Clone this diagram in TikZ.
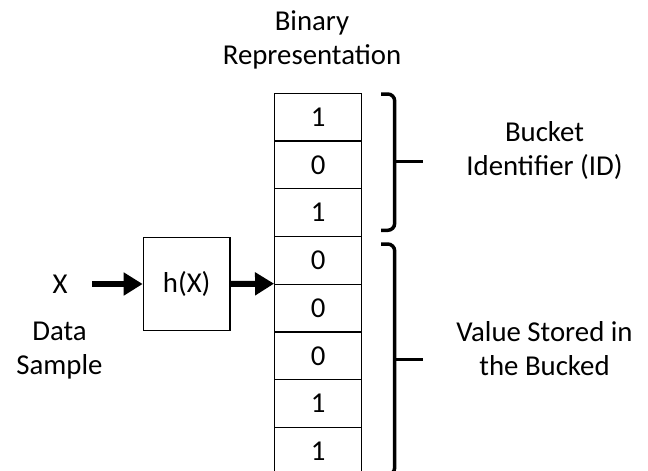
\documentclass[tikz,border=0pt]{standalone}
\usepackage{fontspec}
\setmainfont{Carlito}
\usetikzlibrary{arrows.meta}
\tikzset{
  lbl/.style={font=\fontsize{28.8}{33.6}\selectfont, align=center, inner sep=0pt, anchor=base},
  bitcell/.style={draw, line width=1.3pt, minimum width=87pt, minimum height=47.75pt,
    inner sep=0pt, font=\fontsize{28.8}{33.6}\selectfont},
  hashbox/.style={draw, line width=1.3pt, minimum width=86.7pt, minimum height=93.4pt,
    inner sep=0pt, font=\fontsize{28.8}{33.6}\selectfont},
  bigarrow/.style={line width=6pt, -{Triangle[length=19pt,width=22pt]}},
  bracket/.style={line width=3.5pt, rounded corners=7pt, line cap=butt}
}
\begin{document}
\begin{tikzpicture}[x=1pt,y=-1pt]
\useasboundingbox (0,0) rectangle (648,471);

% column of bits (digits sit slightly below the cell centre)
\foreach \b [count=\k] in {1,0,1,0,0,0,1,1} {
  \node[bitcell] (c\k) at (318.2, {93.3+47.75*(\k-0.5)}) {\raisebox{-2pt}{\b}};
}

% headings and captions (placed by the baseline of their last line)
\node[lbl] (head) at (312,64.3) {Binary\\Representation};
\node[lbl] (idlbl) at (544.5,175) {Bucket\\Identifier (ID)};
\node[lbl] (vallbl) at (544.5,375) {Value Stored in\\the Bucked};
\node[lbl] (xin) at (60,293) {X};
\node[lbl] (datalbl) at (59.5,374.3) {Data\\Sample};

% hash function
\node[hashbox] (h) at (186.7,284) {h(X)};

% arrows
\coordinate (xstart) at (92.3,284);
\draw[bigarrow] (xstart) -- (h.west);
\draw[bigarrow] (h.east) -- (c5.north west);

% bucket identifier brace
\draw[bracket] (381,94) -- (394.7,94) -- (394.7,230.3) -- (381,230.3);
\draw[bracket] (394.7,161.7) -- (423.3,161.7);

% stored value brace
\draw[bracket] (381,244) -- (394.7,244) -- (394.7,474.6) -- (381,474.6);
\draw[bracket] (394.7,359.3) -- (423.3,359.3);
\end{tikzpicture}
\end{document}
